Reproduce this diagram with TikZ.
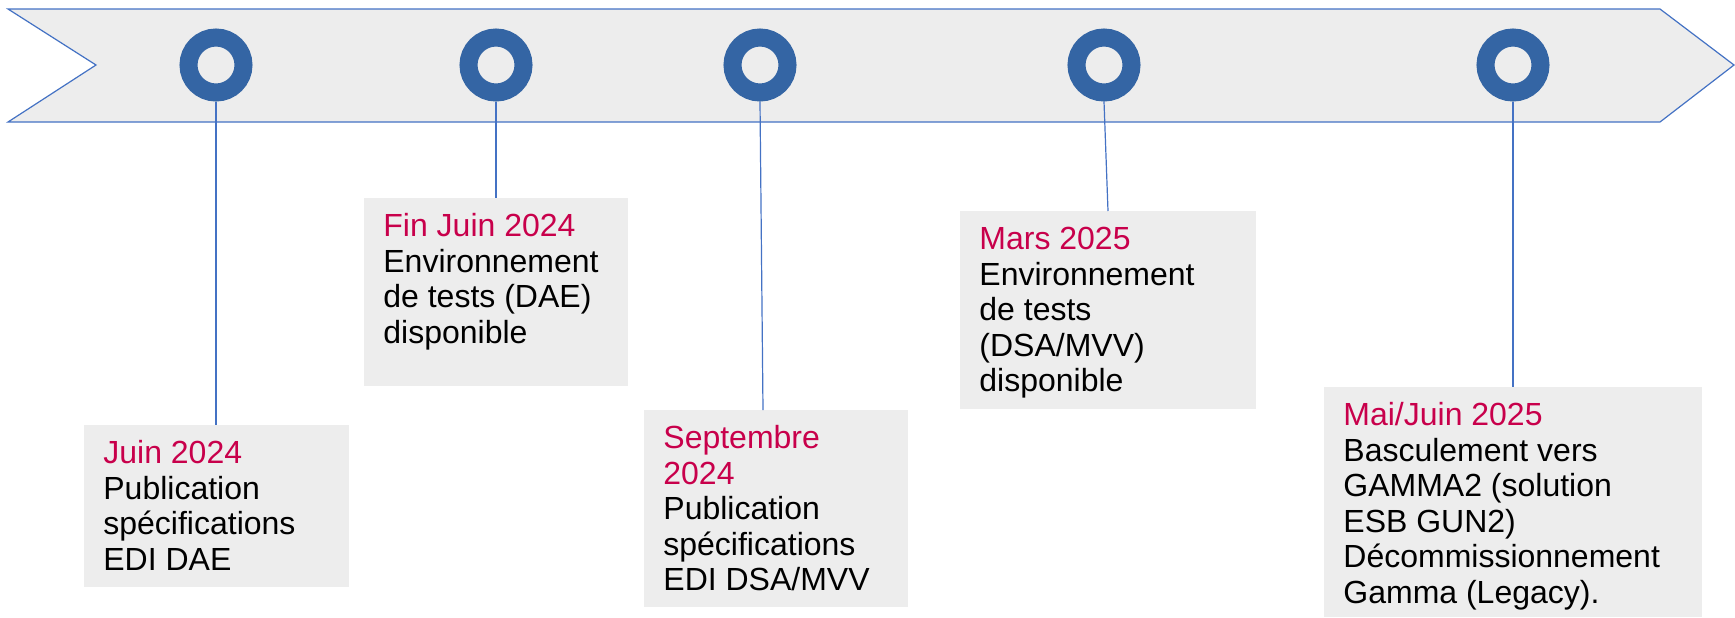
\documentclass[tikz,border=0pt]{standalone}
\usepackage{fontspec}
\setmainfont{Liberation Sans}
\usetikzlibrary{positioning}
\definecolor{bannergray}{HTML}{EDEDED}
\definecolor{lineblue}{HTML}{4472C4}
\definecolor{ringblue}{HTML}{3465A4}
\definecolor{datered}{HTML}{C8004B}
% box text: width, height, date, description
\newcommand\Milestone[4]
  {\parbox[c][#2][t]{#1}{\rule{0pt}{19pt}{\color{datered}#3}\\#4}}
\tikzset
  {
    banner/.style=
      {
        draw=lineblue,
        fill=bannergray,
        line width=.6pt,
      },
    ring/.style=
      {
        circle,
        draw=ringblue,
        fill=bannergray,
        line width=9pt,
        minimum size=27.5pt,
        inner sep=0pt,
      },
    stem/.style={draw=lineblue, line width=.6pt},
    event/.style=
      {
        fill=bannergray,
        inner xsep=9.5pt,
        inner ysep=0pt,
        anchor=north west,
        font=\fontsize{16}{17.8}\selectfont,
      },
  }
\begin{document}
\begin{tikzpicture}[x=.5pt, y=-.5pt]
  \useasboundingbox (0,0) rectangle (1735,617);

  \draw[banner] (8,9) -- (1660,9) -- (1734,65) -- (1660,122)
    -- (8,122) -- (96,65) -- cycle;

  \node[ring] (m1) at (216,65) {};
  \node[ring] (m2) at (496,65) {};
  \node[ring] (m3) at (760,65) {};
  \node[ring] (m4) at (1104,65) {};
  \node[ring] (m5) at (1513,65) {};

  \node[event] (b1) at (84,425)
    {\Milestone{113.5pt}{81pt}{Juin 2024}
      {Publication\\spécifications\\EDI DAE}};
  \node[event] (b2) at (364,198)
    {\Milestone{113pt}{94pt}{Fin Juin 2024}
      {Environnement\\de tests (DAE)\\disponible}};
  \node[event] (b3) at (644,410)
    {\Milestone{113pt}{98.5pt}{Septembre\\2024}
      {Publication\\spécifications\\EDI DSA/MVV}};
  \node[event] (b4) at (960,211)
    {\Milestone{129pt}{99pt}{Mars 2025}
      {Environnement\\de tests\\(DSA/MVV)\\disponible}};
  \node[event] (b5) at (1324,387)
    {\Milestone{170pt}{115pt}{Mai/Juin 2025}
      {Basculement vers\\GAMMA2 (solution\\ESB GUN2)\\Décommissionnement\\Gamma (Legacy).}};

  \draw[stem] (m1.south) -- (m1 |- b1.north);
  \draw[stem] (m2.south) -- (m2 |- b2.north);
  \draw[stem] (m3.south) -- ([xshift=1.5pt]m3 |- b3.north);
  \draw[stem] (m4.south) -- ([xshift=2pt]m4 |- b4.north);
  \draw[stem] (m5.south) -- (m5 |- b5.north);
\end{tikzpicture}
\end{document}
